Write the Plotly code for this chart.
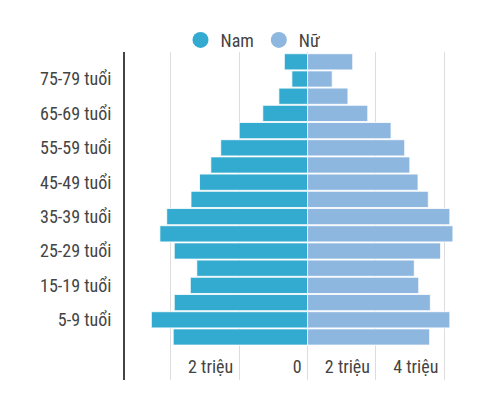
import plotly.graph_objects as go

age_groups = ["0-4", "5-9", "10-14", "15-19", "20-24", "25-29", "30-34", "35-39",
              "40-44", "45-49", "50-54", "55-59", "60-64", "65-69", "70-74", "75-79", "80+"]
male = [3.93, 4.57, 3.90, 3.43, 3.24, 3.90, 4.32, 4.12,
        3.41, 3.16, 2.83, 2.54, 2.00, 1.31, 0.84, 0.46, 0.68]
female = [3.57, 4.16, 3.59, 3.25, 3.12, 3.89, 4.25, 4.16,
          3.53, 3.23, 2.99, 2.84, 2.44, 1.76, 1.18, 0.72, 1.32]
y_labels = [g + " tuổi" for g in age_groups]
shown_ticks = ["5-9 tuổi", "15-19 tuổi", "25-29 tuổi", "35-39 tuổi",
               "45-49 tuổi", "55-59 tuổi", "65-69 tuổi", "75-79 tuổi"]
x_tickvals = [-4, -2, 0, 2, 4]
x_ticktext = ["", "2 triệu", "0", "2 triệu", "4 triệu"]
series_names = ["Nam", "Nữ"]
colors = ["#33aacf", "#8eb7e0"]

FONT = "Roboto Condensed, Roboto, sans-serif"
TXT = "#444444"

fig = go.Figure()
fig.add_trace(go.Bar(y=y_labels, x=[-v for v in male], orientation="h",
                     marker=dict(color=colors[0], line=dict(color="rgba(255,255,255,0.8)", width=1)),
                     showlegend=False, name=series_names[0]))
fig.add_trace(go.Bar(y=y_labels, x=female, orientation="h",
                     marker=dict(color=colors[1], line=dict(color="rgba(255,255,255,0.8)", width=1)),
                     showlegend=False, name=series_names[1]))
for n, c in zip(series_names, colors):
    fig.add_trace(go.Scatter(x=[None], y=[None], mode="markers", name=n,
                             marker=dict(symbol="circle", size=16, color=c)))

fig.update_layout(
    width=500, height=393,
    margin=dict(l=117, r=38, t=44, b=21, autoexpand=False),
    plot_bgcolor="white", paper_bgcolor="white",
    barmode="relative", bargap=0.06,
    font=dict(family=FONT, size=18, color=TXT),
    legend=dict(orientation="h", xref="container", yref="container",
                x=0.49, xanchor="center", y=0.965, yanchor="top",
                font=dict(size=18, color=TXT), itemwidth=30,
                bgcolor="rgba(0,0,0,0)"),
    xaxis=dict(range=[-5.34, 4.75], tickvals=x_tickvals, ticktext=x_ticktext,
               showgrid=True, gridcolor="#dddddd", gridwidth=1, zeroline=False,
               ticklabelposition="inside left", ticklabelshift=-6, ticklabelstandoff=-3,
               ticks="", showline=False,
               tickfont=dict(size=18, color=TXT), fixedrange=True),
    yaxis=dict(type="category", categoryorder="array", categoryarray=y_labels,
               range=[-2.5, 16.57], tickmode="array", tickvals=shown_ticks,
               ticktext=shown_ticks, showgrid=False, showline=True,
               linecolor="#444", linewidth=2, ticks="", ticklabelstandoff=8,
               tickfont=dict(size=18, color=TXT)),
)
fig.write_html("out.html")
